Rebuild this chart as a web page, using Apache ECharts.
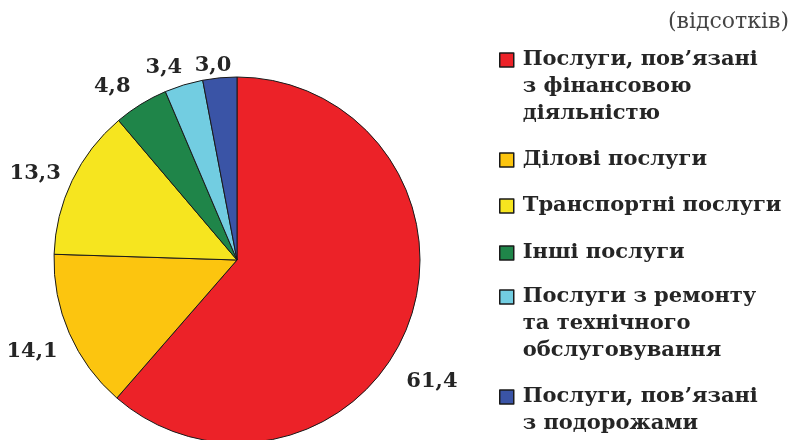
<!DOCTYPE html>
<html>
<head>
<meta charset="utf-8">
<script src="https://cdn.jsdelivr.net/npm/echarts@6/dist/echarts.min.js"></script>
<style>
  html, body { margin: 0; padding: 0; background: #fff; }
  #chart { width: 798px; height: 440px; }
</style>
</head>
<body>
<div id="chart"></div>
<script>
// категорії та значення (відсотки)
var categories = [
  "Послуги, пов’язані\nз фінансовою\nдіяльністю",
  "Ділові послуги",
  "Транспортні послуги",
  "Інші послуги",
  "Послуги з ремонту\nта технічного\nобслуговування",
  "Послуги, пов’язані\nз подорожами"
];
var values = [61.4, 14.1, 13.3, 4.8, 3.4, 3.0];
var unitLabel = "(відсотків)";

// стилі
var sliceColors = ["#ec2228", "#fcc50f", "#f6e51f", "#1f8549", "#72cde1", "#3a54a6"];
var legendCenters = [60, 160, 206, 253, 297, 397]; // y центру першого рядка
var labelNudge = [[-22, 52], [8, 12], [8, 0], [3, -4], [8, -2], [18, 4]];
var lineH = 27;
var font = "DejaVu Serif";

var chart = echarts.init(document.getElementById("chart"));

// окрема легенда на кожен пункт, щоб маркер стояв біля першого рядка
var legends = categories.map(function (name, i) {
  var n = name.split("\n").length;
  var h = (2 * n - 1) * lineH;
  return {
    orient: "vertical",
    left: 499,
    top: legendCenters[i] - h / 2,
    padding: 0,
    itemWidth: 14,
    itemHeight: 14,
    icon: "rect",
    selectedMode: false,
    itemStyle: { borderColor: "#1a1a1a", borderWidth: 1.5 },
    formatter: function (nm) {
      var k = nm.split("\n").length;
      return new Array(k).join("\n") + nm;
    },
    textStyle: {
      fontFamily: font,
      fontSize: 21,
      fontWeight: "bold",
      color: "#252525",
      lineHeight: lineH,
      padding: [0, 0, 0, 4]
    },
    data: [name]
  };
});

chart.setOption({
  backgroundColor: "#fff",
  animation: false,
  title: {
    text: unitLabel,
    right: 4,
    top: 6,
    textStyle: { fontFamily: font, fontSize: 22, fontWeight: "normal", color: "#444" }
  },
  legend: legends,
  series: [
    {
      type: "pie",
      center: [237, 260],
      radius: 183,
      startAngle: 90,
      clockwise: true,
      avoidLabelOverlap: false,
      itemStyle: { borderColor: "#1a1a1a", borderWidth: 1 },
      label: {
        show: true,
        position: "outside",
        fontFamily: font,
        fontSize: 21,
        fontWeight: "bold",
        color: "#252525",
        formatter: function (p) {
          return p.value.toFixed(1).replace(".", ",");
        }
      },
      labelLine: { show: false, length: 16, length2: 0 },
      labelLayout: function (p) {
        var d = labelNudge[p.dataIndex];
        return { dx: d[0], dy: d[1] };
      },
      data: categories.map(function (name, i) {
        return { name: name, value: values[i], itemStyle: { color: sliceColors[i] } };
      })
    }
  ]
});
</script>
</body>
</html>
